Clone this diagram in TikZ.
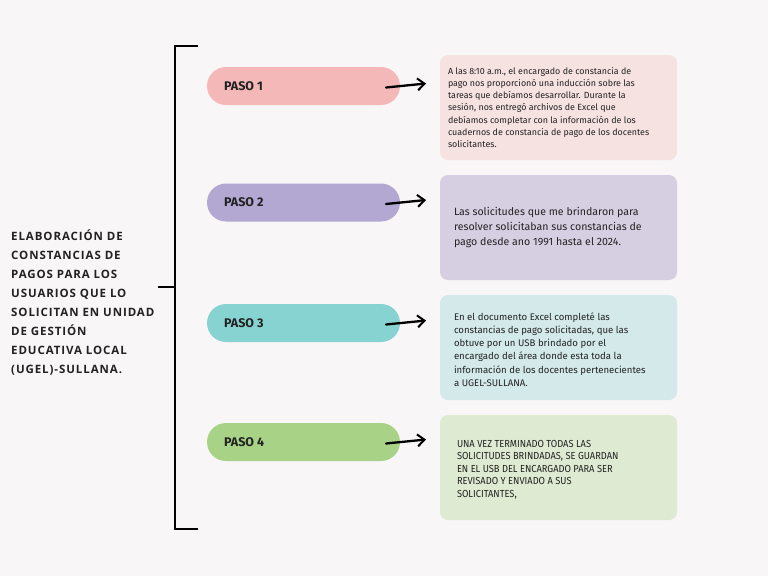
\documentclass[tikz,border=0pt]{standalone}
\usepackage{fontspec}
\setmainfont{Fira Sans}
\newfontfamily\titlefont[LetterSpace=8]{Open Sans}
\newfontfamily\narrowfont[FakeStretch=0.91]{Fira Sans}
\usetikzlibrary{positioning,arrows.meta}
\definecolor{bgcol}{HTML}{F8F6F7}
\definecolor{pinkpill}{HTML}{F5B8B8}
\definecolor{lilapill}{HTML}{B2A8D2}
\definecolor{tealpill}{HTML}{87D3D1}
\definecolor{greenpill}{HTML}{A8D386}
\definecolor{pinkbox}{HTML}{F7E2E2}
\definecolor{lilabox}{HTML}{D6CFE2}
\definecolor{tealbox}{HTML}{D3E9EA}
\definecolor{greenbox}{HTML}{DFEAD2}
\definecolor{ink}{HTML}{222222}
\tikzset{
  pill/.style={rounded corners=19pt,minimum width=193pt,minimum height=38pt,
    inner sep=0pt},
  pilltext/.style={anchor=west,inner sep=0pt,
    font=\bfseries\fontsize{12.5}{14}\selectfont,text=ink},
  descbox/.style={rounded corners=8pt,minimum width=237pt,minimum height=105pt,
    inner sep=0pt},
  desctext/.style={anchor=west,align=left,inner sep=0pt,text=ink},
  stepto/.style={-{Straight Barb[length=7pt,width=12pt,line width=2pt]},
    line width=2.3pt,line cap=round,black}
}
\begin{document}
\begin{tikzpicture}[x=1pt,y=-1pt]
\fill[bgcol] (0,0) rectangle (768,576);
\useasboundingbox (0,0) rectangle (768,576);
% title and bracket
\node[anchor=north west,align=left,inner sep=0pt,text=ink,
  font=\titlefont\bfseries\fontsize{11.5}{19}\selectfont] (t) at (11,230)
  {ELABORACIÓN DE\\CONSTANCIAS DE\\PAGOS PARA LOS\\USUARIOS QUE LO\\
   SOLICITAN EN UNIDAD\\DE GESTIÓN\\EDUCATIVA LOCAL\\(UGEL)-SULLANA.};
\coordinate (bt) at (175,46);
\coordinate (bb) at (175,529);
\coordinate (bm) at (175,287);
\draw[line width=1.2pt] (198,46) -- (bt) -- (bb) -- (198,529);
\draw[line width=1.2pt] (158,287) -- (bm);
% steps
\node[pill,fill=pinkpill] (p1) at (303.5,86) {};
\node[pill,fill=lilapill] (p2) at (303.5,202.5) {};
\node[pill,fill=tealpill] (p3) at (303.5,323) {};
\node[pill,fill=greenpill] (p4) at (303.5,442) {};
\node[pilltext] (l1) at (224,86) {PASO 1};
\node[pilltext] (l2) at (224,202.5) {PASO 2};
\node[pilltext] (l3) at (224,323) {PASO 3};
\node[pilltext] (l4) at (224,442) {PASO 4};
% descriptions
\node[descbox,fill=pinkbox] (d1) at (558.5,107.5) {};
\node[descbox,fill=lilabox] (d2) at (558.5,227.5) {};
\node[descbox,fill=tealbox] (d3) at (558.5,347.5) {};
\node[descbox,fill=greenbox] (d4) at (558.5,467.5) {};
\node[desctext,font=\fontsize{8.9}{12.3}\selectfont] (s1) at ([xshift=8pt,yshift=0pt]d1.west)
  {A las 8:10 a.m., el encargado de constancia de\\
   pago nos proporcionó una inducción sobre las\\
   tareas que debíamos desarrollar. Durante la\\
   sesión, nos entregó archivos de Excel que\\
   debíamos completar con la información de los\\
   cuadernos de constancia de pago de los docentes\\
   solicitantes.};
\node[desctext,font=\fontsize{10.6}{15}\selectfont] (s2) at ([xshift=14pt]d2.west)
  {Las solicitudes que me brindaron para\\
   resolver solicitaban sus constancias de\\
   pago desde ano 1991 hasta el 2024.};
\node[desctext,font=\fontsize{9.6}{13.3}\selectfont] (s3) at ([xshift=14pt,yshift=-2pt]d3.west)
  {En el documento Excel completé las\\
   constancias de pago solicitadas, que las\\
   obtuve por un USB brindado por el\\
   encargado del área donde esta toda la\\
   información de los docentes pertenecientes\\
   a UGEL-SULLANA.};
\node[desctext,font=\narrowfont\fontsize{10.2}{12.5}\selectfont] (s4) at ([xshift=17pt,yshift=-2pt]d4.west)
  {UNA VEZ TERMINADO TODAS LAS\\
   SOLICITUDES BRINDADAS, SE GUARDAN\\
   EN EL USB DEL ENCARGADO PARA SER\\
   REVISADO Y ENVIADO A SUS\\
   SOLICITANTES,};
% arrows
\foreach \i/\y in {1/86,2/202.5,3/323,4/442}{
  \coordinate (a\i) at (386,\y+1.5);
  \coordinate (b\i) at (426,\y-2.5);
  \draw[stepto] (a\i) -- (b\i);
}
\end{tikzpicture}
\end{document}
